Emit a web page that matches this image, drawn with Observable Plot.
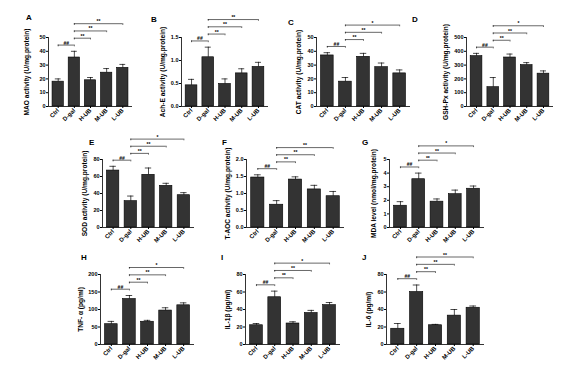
<!DOCTYPE html>
<html><head><meta charset="utf-8">
<script src="https://cdn.jsdelivr.net/npm/d3@7"></script>
<script src="https://cdn.jsdelivr.net/npm/@observablehq/plot@0.6"></script>
<style>
body{margin:0;background:#fff;-webkit-font-smoothing:antialiased;}
#fig{position:relative;width:567px;height:371px;overflow:hidden;font-family:"Liberation Sans",Arial,sans-serif;background:#fff;}
.lbl{position:absolute;font-weight:bold;font-size:8px;line-height:8px;}
#fig svg{position:absolute;}
</style></head><body><div id="fig"></div>
<script>
const groups = ["Ctrl", "D-gal", "H-UB", "M-UB", "L-UB"];
const pairs = [[0, 1], [1, 2], [1, 3], [1, 4]];

const maoMean = [18, 35.5, 19, 24.5, 28];      const maoErr = [2, 4.5, 2, 3, 2.5];
const acheMean = [0.46, 1.07, 0.49, 0.72, 0.86]; const acheErr = [0.13, 0.22, 0.11, 0.1, 0.1];
const catMean = [37, 18, 36, 28.5, 24];        const catErr = [2, 3, 2.5, 3, 2.5];
const gshMean = [365, 140, 355, 300, 238];     const gshErr = [20, 70, 25, 18, 20];
const sodMean = [67, 31, 62, 49, 38];          const sodErr = [5, 6, 8, 3, 3];
const taocMean = [1.47, 0.67, 1.41, 1.12, 0.92]; const taocErr = [0.08, 0.12, 0.08, 0.12, 0.14];
const mdaMean = [1.6, 3.55, 1.9, 2.45, 2.85];  const mdaErr = [0.3, 0.45, 0.2, 0.3, 0.2];
const tnfMean = [58, 130, 65, 97, 112];        const tnfErr = [8, 10, 4, 8, 7];
const il1Mean = [22, 54, 24, 36, 45];          const il1Err = [2, 7, 2, 3, 3];
const il6Mean = [18, 60, 22, 33, 42];          const il6Err = [6, 8, 1, 7, 2];

const sigA = ["##", "**", "**", "**"];
const sigB = ["##", "**", "**", "**"];
const sigC = ["##", "**", "**", "*"];
const sigD = ["##", "**", "**", "*"];
const sigE = ["##", "**", "**", "*"];
const sigF = ["##", "**", "**", "**"];
const sigG = ["##", "**", "**", "*"];
const sigH = ["##", "**", "**", "*"];
const sigI = ["##", "**", "**", "*"];
const sigJ = ["##", "**", "**", "**"];

const ticks50 = [0, 10, 20, 30, 40, 50];
const ticks15 = [0, 0.5, 1.0, 1.5];
const ticks500 = [0, 100, 200, 300, 400, 500];
const ticks80 = [0, 20, 40, 60, 80];
const ticks20 = [0, 0.5, 1.0, 1.5, 2.0];
const ticks5 = [0, 1, 2, 3, 4, 5];
const ticks200 = [0, 50, 100, 150, 200];

const titles = {
  A: "MAO activity (U/mg.protein)",
  B: "Ach-E activity (U/mg.protein)",
  C: "CAT activity (U/mg.protein)",
  D: "GSH-Px activity (U/mg.protein)",
  E: "SOD activity (U/mg.protein)",
  F: "T-AOC activity (U/mg.protein)",
  G: "MDA level (nmol/mg.protein)",
  H: "TNF- α (pg/ml)",
  I: "IL-1β (pg/ml)",
  J: "IL-6 (pg/ml)"
};

// layout: [id, mean, err, sig, ticks, fmt, x0, x1, yTop, yZero, titleOffset, labelX, labelY]
const f1 = d3.format(".1f"), f0 = d3.format("d");
const panels = [
  ["A", maoMean, maoErr, sigA, ticks50, f0, 48, 132, 37, 106, 22, 26, 14],
  ["B", acheMean, acheErr, sigB, ticks15, f1, 181, 268, 37, 106, 19, 151, 16],
  ["C", catMean, catErr, sigC, ticks50, f0, 316, 410, 37, 106, 18, 288, 19],
  ["D", gshMean, gshErr, sigD, ticks500, f0, 466, 553, 37, 106, 21, 412, 16],
  ["E", sodMean, sodErr, sigE, ticks80, f0, 102, 194, 159, 227, 18, 89, 139],
  ["F", taocMean, taocErr, sigF, ticks20, f1, 246, 344, 159, 227, 19, 222, 139],
  ["G", mdaMean, mdaErr, sigG, ticks5, f0, 389, 484, 159, 227, 16, 362, 139],
  ["H", tnfMean, tnfErr, sigH, ticks200, f0, 100, 194, 274, 344, 20, 81, 254],
  ["I", il1Mean, il1Err, sigI, ticks80, f0, 245, 340, 274, 344, 18, 221, 254],
  ["J", il6Mean, il6Err, sigJ, ticks80, f0, 386, 484, 274, 344, 18, 362, 254]
];

const fig = document.getElementById("fig");
const ML = 40, MR = 8, MT = 28, MB = 26;

for (const [id, mean, err, sig, ticks, fmt, x0, x1, yTop, yZero, tOff, lx, ly] of panels) {
  const yMax = ticks[ticks.length - 1];
  const data = groups.map((g, i) => ({i, g, m: mean[i], e: err[i]}));
  const h0 = Math.max(mean[0] + err[0], mean[1] + err[1]) + 0.09 * yMax;
  const brackets = pairs.map(([a, b], k) => ({
    a, b, s: sig[k],
    h: k === 0 ? h0 : h0 + 0.1 * yMax + 0.105 * yMax * (k - 1)
  }));
  const ends = brackets.flatMap(d => [{x: d.a, h: d.h}, {x: d.b, h: d.h}]);
  const tick = 0.025 * yMax;

  const plot = Plot.plot({
    width: ML + (x1 - x0) + MR,
    height: MT + (yZero - yTop) + MB,
    marginLeft: ML, marginRight: MR, marginTop: MT, marginBottom: MB,
    style: {fontFamily: '"Liberation Sans", Arial, sans-serif', fontSize: "5.5px", fontWeight: "bold", background: "transparent", overflow: "visible", color: "#000"},
    x: {domain: [-0.6, 4.6]},
    y: {domain: [0, yMax]},
    marks: [
      Plot.rectY(data, {x1: d => d.i - 0.35, x2: d => d.i + 0.35, y1: 0, y2: "m", fill: "#333", stroke: "#000", strokeWidth: 0.6}),
      Plot.ruleX(data, {x: "i", y1: "m", y2: d => d.m + d.e, stroke: "#000", strokeWidth: 0.7}),
      Plot.ruleY(data, {x1: d => d.i - 0.18, x2: d => d.i + 0.18, y: d => d.m + d.e, stroke: "#000", strokeWidth: 0.7}),
      Plot.ruleY([0], {stroke: "#000", strokeWidth: 0.8}),
      Plot.ruleX([-0.6], {stroke: "#000", strokeWidth: 0.8}),
      Plot.axisY({ticks, tickFormat: fmt, tickSize: 2, tickPadding: 1, label: null}),
      Plot.axisX({ticks: [0, 1, 2, 3, 4], tickFormat: i => groups[i], tickRotate: -45, tickSize: 2, tickPadding: 1, label: null, fontSize: 6}),
      Plot.ruleY(brackets, {x1: "a", x2: "b", y: "h", stroke: "#000", strokeWidth: 0.6}),
      Plot.ruleX(ends, {x: "x", y1: "h", y2: d => d.h - tick, stroke: "#000", strokeWidth: 0.6}),
      Plot.text(brackets, {x: d => (d.a + d.b) / 2, y: "h", text: "s", dy: -0.5, lineAnchor: "bottom", fontSize: 5, fill: "#000"}),
      Plot.text([titles[id]], {frameAnchor: "left", dx: -tOff, rotate: -90, textAnchor: "middle", fontSize: 6.6, fontWeight: "bold", fill: "#000"})
    ]
  });
  plot.style.left = (x0 - ML) + "px";
  plot.style.top = (yTop - MT) + "px";
  fig.appendChild(plot);
  const lab = document.createElement("div");
  lab.className = "lbl";
  lab.textContent = id;
  lab.style.left = lx + "px";
  lab.style.top = ly + "px";
  fig.appendChild(lab);
}
</script></body></html>
